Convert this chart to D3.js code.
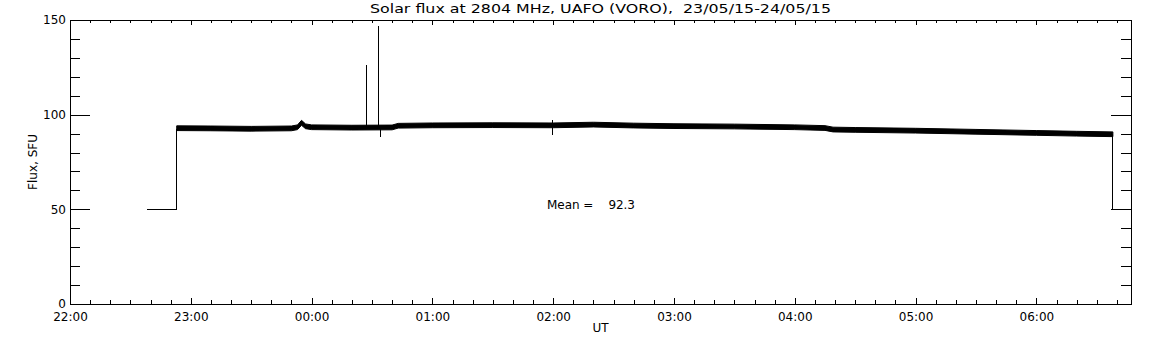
<!DOCTYPE html>
<html>
<head>
<meta charset="utf-8">
<script src="https://cdn.jsdelivr.net/npm/d3@7"></script>
<style>
body { margin: 0; background: #fff; }
text { font-family: "DejaVu Sans", sans-serif; fill: #000; }
</style>
</head>
<body>
<svg id="chart"></svg>
<script>
// axis ticks
var xTickLabels = ["22:00", "23:00", "00:00", "01:00", "02:00", "03:00", "04:00", "05:00", "06:00"];
var yTickValues = [0, 50, 100, 150];
var yMinorValues = [10, 20, 30, 40, 60, 70, 80, 90, 110, 120, 130, 140];

// flux band (min / max of the noisy record)
var bandTimes = ["22:53", "23:10", "23:30", "23:50", "23:53", "23:55", "23:57", "00:00", "00:20", "00:40", "00:43",
  "01:00", "01:30", "02:00", "02:20", "02:40", "03:00", "03:30", "04:00", "04:15", "04:19", "04:30",
  "05:00", "05:30", "06:00", "06:20", "06:38"];
var bandLow = [91.6, 91.5, 91.3, 91.5, 92.1, 94.4, 92.6, 92.1, 91.9, 92.0, 92.9,
  93.1, 93.2, 93.1, 93.5, 93.0, 92.7, 92.5, 92.1, 91.7, 90.9, 90.7,
  90.3, 89.7, 89.1, 88.7, 88.4];
var bandHigh = [94.1, 94.0, 93.8, 94.0, 94.6, 97.0, 95.1, 94.6, 94.4, 94.5, 95.4,
  95.6, 95.7, 95.6, 96.0, 95.5, 95.2, 95.0, 94.6, 94.2, 93.4, 93.2,
  92.8, 92.2, 91.6, 91.2, 90.9];

// calibration steps before and after the record
var preTimes = ["22:38", "22:53", "22:53"];
var preValues = [50, 50, 92.5];
var postTimes = ["06:38", "06:38"];
var postValues = [89.7, 50];

// isolated spikes
var spikeTimes = ["00:27:15", "00:33:25", "00:34:10", "01:59:35"];
var spikeLow = [93, 93, 88, 89];
var spikeHigh = [126, 147, 93, 97];

var meanValue = 92.3;

function t(s) {
  var p = s.split(":").map(Number);
  var day = p[0] >= 12 ? 23 : 24;
  return new Date(Date.UTC(2015, 4, day, p[0], p[1], p[2] || 0));
}

var width = 1152, height = 345;
var mLeft = 70, mRight = 1131, mTop = 20, mBottom = 304;

var svg = d3.select("#chart")
  .attr("width", width)
  .attr("height", height);

var x = d3.scaleUtc().domain([t("22:00"), t("06:47")]).range([mLeft, mRight]);
var y = d3.scaleLinear().domain([0, 150]).range([mBottom, mTop]);

var xMajor = xTickLabels.map(t);
var xMinor = d3.utcMinute.every(10).range(t("22:00"), t("06:47")).filter(function (d) {
  return d.getUTCMinutes() !== 0;
});

var axes = svg.append("g").attr("shape-rendering", "crispEdges");

function styleAxis(g) {
  g.select(".domain").remove();
  g.selectAll("line").attr("stroke", "#000");
  g.selectAll("text").attr("font-size", "12px").attr("fill", "#000").attr("font-family", "DejaVu Sans");
}

// bottom
axes.append("g").attr("transform", "translate(0," + mBottom + ")")
  .call(d3.axisBottom(x).tickValues(xMajor).tickSize(-6).tickPadding(8).tickFormat(d3.utcFormat("%H:%M")))
  .call(styleAxis);
axes.append("g").attr("transform", "translate(0," + mBottom + ")")
  .call(d3.axisBottom(x).tickValues(xMinor).tickSize(-4).tickFormat(""))
  .call(styleAxis);
// top
axes.append("g").attr("transform", "translate(0," + mTop + ")")
  .call(d3.axisTop(x).tickValues(xMajor).tickSize(-5).tickFormat(""))
  .call(styleAxis);
axes.append("g").attr("transform", "translate(0," + mTop + ")")
  .call(d3.axisTop(x).tickValues(xMinor).tickSize(-3).tickFormat(""))
  .call(styleAxis);
// left
axes.append("g").attr("transform", "translate(" + mLeft + ",0)")
  .call(d3.axisLeft(y).tickValues(yTickValues).tickSize(-20).tickPadding(4))
  .call(styleAxis);
axes.append("g").attr("transform", "translate(" + mLeft + ",0)")
  .call(d3.axisLeft(y).tickValues(yMinorValues).tickSize(-10).tickFormat(""))
  .call(styleAxis);
// right
axes.append("g").attr("transform", "translate(" + mRight + ",0)")
  .call(d3.axisRight(y).tickValues(yTickValues).tickSize(-20).tickFormat(""))
  .call(styleAxis);
axes.append("g").attr("transform", "translate(" + mRight + ",0)")
  .call(d3.axisRight(y).tickValues(yMinorValues).tickSize(-10).tickFormat(""))
  .call(styleAxis);

axes.append("rect")
  .attr("x", mLeft).attr("y", mTop)
  .attr("width", mRight - mLeft).attr("height", mBottom - mTop)
  .attr("fill", "none").attr("stroke", "#000");

// data
var plot = svg.append("g").attr("shape-rendering", "crispEdges");

var band = bandTimes.map(function (d, i) {
  return { t: t(d), lo: bandLow[i], hi: bandHigh[i] };
});

plot.append("path")
  .datum(band)
  .attr("d", d3.area()
    .x(function (d) { return x(d.t); })
    .y0(function (d) { return y(d.lo); })
    .y1(function (d) { return y(d.hi); }))
  .attr("fill", "#000")
  .attr("stroke", "#000")
  .attr("stroke-width", 1)
  .attr("shape-rendering", "auto");

var line = d3.line()
  .x(function (d) { return x(d[0]); })
  .y(function (d) { return y(d[1]); });

plot.append("path")
  .attr("d", line(preTimes.map(function (d, i) { return [t(d), preValues[i]]; })))
  .attr("fill", "none").attr("stroke", "#000");

plot.append("path")
  .attr("d", line(postTimes.map(function (d, i) { return [t(d), postValues[i]]; })))
  .attr("fill", "none").attr("stroke", "#000");

plot.selectAll("line.spike")
  .data(spikeTimes)
  .enter()
  .append("line")
  .attr("class", "spike")
  .attr("x1", function (d) { return x(t(d)); })
  .attr("x2", function (d) { return x(t(d)); })
  .attr("y1", function (d, i) { return y(spikeLow[i]); })
  .attr("y2", function (d, i) { return y(spikeHigh[i]); })
  .attr("stroke", "#000");

// texts
svg.append("text")
  .attr("x", (mLeft + mRight) / 2).attr("y", 13)
  .attr("text-anchor", "middle")
  .attr("font-size", "12.5px")
  .attr("textLength", 461).attr("lengthAdjust", "spacingAndGlyphs")
  .style("white-space", "pre")
  .text("Solar flux at 2804 MHz, UAFO (VORO),  23/05/15-24/05/15");

svg.append("text")
  .attr("x", 547).attr("y", 209)
  .attr("font-size", "12px")
  .attr("textLength", 88).attr("lengthAdjust", "spacing")
  .style("white-space", "pre")
  .text("Mean =    " + meanValue.toFixed(1));

svg.append("text")
  .attr("x", (mLeft + mRight) / 2).attr("y", 332)
  .attr("text-anchor", "middle")
  .attr("font-size", "12px")
  .text("UT");

svg.append("text")
  .attr("transform", "translate(37," + (mTop + mBottom) / 2 + ") rotate(-90)")
  .attr("text-anchor", "middle")
  .attr("font-size", "12px")
  .text("Flux, SFU");
</script>
</body>
</html>
